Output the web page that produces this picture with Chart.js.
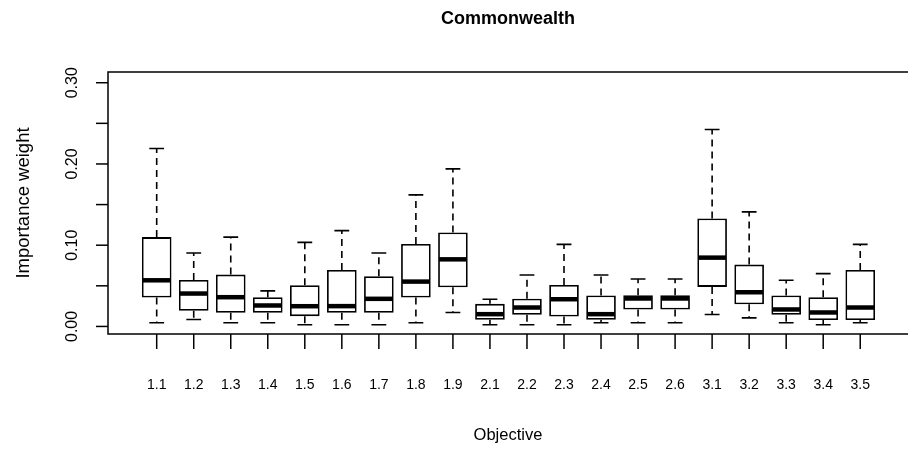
<!DOCTYPE html>
<html>
<head>
<meta charset="utf-8">
<script src="https://cdn.jsdelivr.net/npm/chart.js@4"></script>
<style>
  body { margin: 0; background: #fff; }
  canvas { display: block; }
</style>
</head>
<body>
<canvas id="chart" width="908" height="449"></canvas>
<script>
// Boxplot of importance weights per objective
const objectives = ['1.1', '1.2', '1.3', '1.4', '1.5', '1.6', '1.7', '1.8', '1.9', '2.1',
  '2.2', '2.3', '2.4', '2.5', '2.6', '3.1', '3.2', '3.3', '3.4', '3.5'];

const whiskerLow = [0.0045, 0.0086, 0.0045, 0.0045, 0.002, 0.002, 0.002, 0.0045, 0.0172, 0.002,
  0.002, 0.002, 0.0045, 0.0045, 0.0045, 0.0147, 0.0106, 0.0045, 0.002, 0.0045];
const q1 = [0.0356, 0.0193, 0.0168, 0.0168, 0.0127, 0.0168, 0.0168, 0.0356, 0.0482, 0.0082,
  0.0143, 0.0123, 0.0082, 0.0209, 0.0209, 0.0487, 0.0274, 0.0143, 0.0078, 0.0078];
const medians = [0.0568, 0.0405, 0.036, 0.0258, 0.0249, 0.025, 0.034, 0.0552, 0.0826, 0.0151,
  0.0233, 0.0335, 0.0151, 0.0344, 0.0344, 0.0847, 0.0421, 0.0209, 0.0172, 0.0233];
const q3 = [0.110, 0.0573, 0.0638, 0.036, 0.0507, 0.0695, 0.0618, 0.1015, 0.1157, 0.0278,
  0.034, 0.0511, 0.038, 0.0384, 0.0384, 0.133, 0.0761, 0.038, 0.036, 0.0695];
const whiskerHigh = [0.219, 0.0904, 0.110, 0.0438, 0.1035, 0.118, 0.0904, 0.162, 0.194, 0.0335,
  0.0634, 0.101, 0.0634, 0.0584, 0.0584, 0.2425, 0.141, 0.0568, 0.065, 0.101];

const yTicks = [0, 0.05, 0.10, 0.15, 0.20, 0.25, 0.30];
const yTickLabels = ['0.00', '', '0.10', '', '0.20', '', '0.30'];

const FONT = '"Liberation Sans", Arial, sans-serif';

// whiskers, medians, axes and labels drawn on top of the floating bars
const boxplotExtras = {
  id: 'boxplotExtras',
  afterDatasetsDraw(chart) {
    const ctx = chart.ctx;
    const xs = chart.scales.x;
    const ys = chart.scales.y;
    const area = chart.chartArea;
    const bars = chart.getDatasetMeta(0).data;

    ctx.save();
    ctx.strokeStyle = '#000';

    objectives.forEach((_, i) => {
      const x = xs.getPixelForValue(i);
      const half = bars[i].width / 2;
      const cap = half / 2;

      // dashed whiskers
      ctx.lineWidth = 1.6;
      ctx.setLineDash([7, 5]);
      ctx.beginPath();
      ctx.moveTo(x, ys.getPixelForValue(q3[i]));
      ctx.lineTo(x, ys.getPixelForValue(whiskerHigh[i]));
      ctx.moveTo(x, ys.getPixelForValue(q1[i]));
      ctx.lineTo(x, ys.getPixelForValue(whiskerLow[i]));
      ctx.stroke();

      // staples
      ctx.setLineDash([]);
      ctx.beginPath();
      const yh = ys.getPixelForValue(whiskerHigh[i]);
      const yl = ys.getPixelForValue(whiskerLow[i]);
      ctx.moveTo(x - cap, yh); ctx.lineTo(x + cap, yh);
      ctx.moveTo(x - cap, yl); ctx.lineTo(x + cap, yl);
      ctx.stroke();

      // median
      ctx.lineWidth = 4.5;
      ctx.beginPath();
      const ym = ys.getPixelForValue(medians[i]);
      ctx.moveTo(x - half + 1, ym); ctx.lineTo(x + half - 1, ym);
      ctx.stroke();
    });

    // plot frame
    ctx.lineWidth = 1.5;
    ctx.strokeRect(area.left, area.top, area.right - area.left + 2, area.bottom - area.top);

    // y axis ticks and labels
    ctx.fillStyle = '#000';
    ctx.textAlign = 'center';
    ctx.textBaseline = 'middle';
    ctx.font = '16px ' + FONT;
    yTicks.forEach((v, i) => {
      const y = ys.getPixelForValue(v);
      ctx.beginPath();
      ctx.moveTo(area.left, y); ctx.lineTo(area.left - 12, y);
      ctx.stroke();
      if (yTickLabels[i]) {
        ctx.save();
        ctx.translate(73, y);
        ctx.rotate(-Math.PI / 2);
        ctx.fillText(yTickLabels[i], 0, 0);
        ctx.restore();
      }
    });

    // x axis ticks and labels
    ctx.font = '14px ' + FONT;
    objectives.forEach((label, i) => {
      const x = xs.getPixelForValue(i);
      ctx.beginPath();
      ctx.moveTo(x, area.bottom); ctx.lineTo(x, area.bottom + 15);
      ctx.stroke();
      ctx.fillText(label, x, 385);
    });

    // axis titles
    const cx = (area.left + area.right) / 2;
    ctx.font = '16.5px ' + FONT;
    ctx.fillText('Objective', cx, 435);
    ctx.save();
    ctx.translate(24, (area.top + area.bottom) / 2);
    ctx.rotate(-Math.PI / 2);
    ctx.font = '18.5px ' + FONT;
    ctx.fillText('Importance weight', 0, 0);
    ctx.restore();

    ctx.font = 'bold 18px ' + FONT;
    ctx.fillText('Commonwealth', cx, 19);
    ctx.restore();
  }
};

new Chart(document.getElementById('chart'), {
  type: 'bar',
  data: {
    datasets: [{
      data: objectives.map((_, i) => ({ x: i, y: [q1[i], q3[i]] })),
      backgroundColor: '#fff',
      borderColor: '#000',
      borderWidth: 1.8,
      borderSkipped: false,
      barPercentage: 0.8,
      categoryPercentage: 1.0
    }]
  },
  options: {
    responsive: false,
    animation: false,
    layout: { padding: { left: 108, right: 0, top: 72, bottom: 115 } },
    scales: {
      x: { type: 'linear', min: -1.315, max: 20.29, offset: false, display: false },
      y: { min: -0.0093, max: 0.3132, display: false }
    },
    plugins: {
      legend: { display: false },
      tooltip: { enabled: false }
    }
  },
  plugins: [boxplotExtras]
});
</script>
</body>
</html>
